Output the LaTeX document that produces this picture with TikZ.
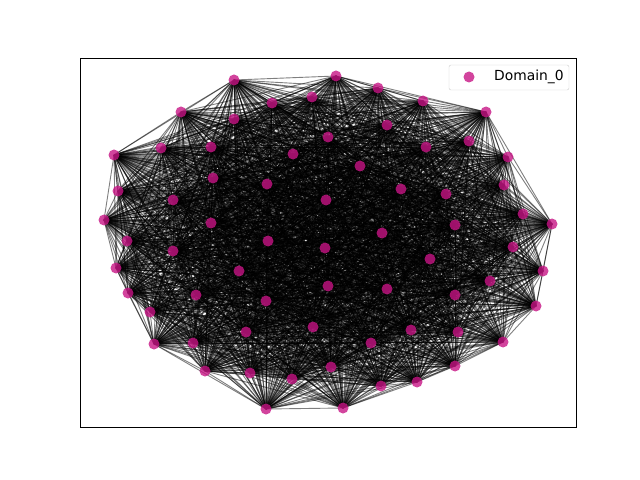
\documentclass[tikz,border=0pt]{standalone}
\usepackage{fontspec}
\setmainfont{DejaVu Sans}
\usetikzlibrary{backgrounds}
\definecolor{domaincol}{RGB}{199,21,133}
\tikzset{
  vertex/.style={circle, fill=domaincol, fill opacity=0.8, inner sep=0pt, minimum size=11bp},
  link/.style={draw=black, draw opacity=0.5, line width=0.9bp},
  legendbox/.style={draw=black!20, rounded corners=2bp, fill=white, fill opacity=0.8,
    inner sep=0pt, minimum width=120bp, minimum height=25bp},
}
\begin{document}
\begin{tikzpicture}[x=1bp, y=-1bp]
  \useasboundingbox (0,0) rectangle (640,480);
  % axes frame
  \draw[line width=0.9bp] (80,58) rectangle (576,427);
  % vertices
  \foreach \i/\x/\y in {
     1/234/80,   2/181/112,  3/272/103,  4/312/97,   5/234/119,
     6/161/148,  7/211/147,  8/114/155,  9/328/137, 10/293/154,
    11/213/178, 12/267/184, 13/118/191, 14/173/200, 15/326/200,
    16/104/220, 17/211/223, 18/127/241, 19/268/241, 20/336/76,
    21/378/88,  22/423/101, 23/486/112, 24/387/125, 25/469/141,
    26/426/147, 27/508/157, 28/360/166, 29/504/185, 30/401/189,
    31/446/194, 32/523/214, 33/552/224, 34/455/225, 35/382/233,
    36/173/251, 37/325/248, 38/116/268, 39/239/271, 40/128/293,
    41/196/295, 42/266/301, 43/328/286, 44/150/312, 45/246/332,
    46/313/327, 47/154/344, 48/193/343, 49/205/371, 50/250/373,
    51/292/379, 52/266/409, 53/331/367, 54/513/247, 55/430/259,
    56/543/271, 57/387/289, 58/490/281, 59/455/295, 60/536/306,
    61/411/330, 62/458/332, 63/371/343, 64/503/342, 65/455/366,
    66/381/386, 67/417/382, 68/343/408}
    \node[vertex] (n\i) at (\x,\y) {};
  % edges (complete graph)
  \begin{pgfonlayer}{background}
    \foreach \i in {1,...,67} {
      \pgfmathtruncatemacro{\k}{\i+1}
      \foreach \j in {\k,...,68}
        \draw[link] (n\i.center) -- (n\j.center);
    }
  \end{pgfonlayer}
  % legend
  \node[legendbox] (legend) at (509,77.5) {};
  \node[vertex] (key) at (469,77) {};
  \node[anchor=west, inner sep=0pt, font=\fontsize{13.9}{16}\selectfont] (keytext) at (494,77) {Domain\_0};
\end{tikzpicture}
\end{document}
